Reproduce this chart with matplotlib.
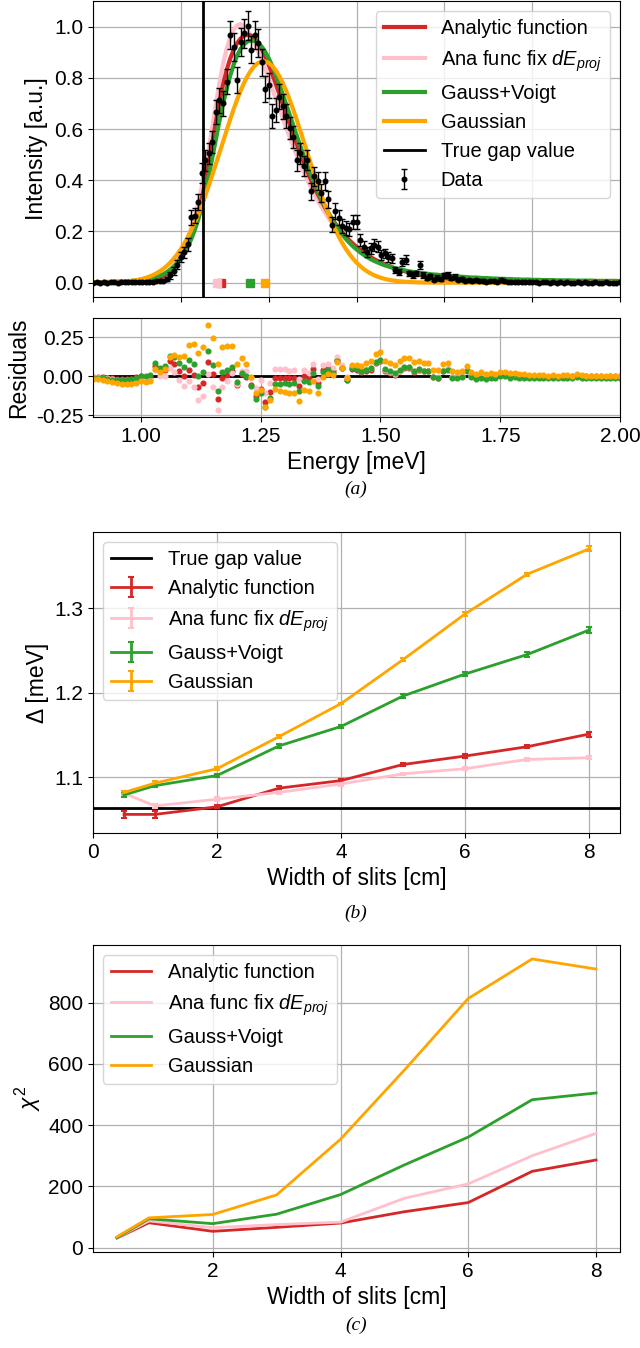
import numpy as np
import matplotlib
matplotlib.use('Agg')
import matplotlib.pyplot as plt
from matplotlib.ticker import FormatStrFormatter

plt.rcParams['font.family'] = ['Liberation Sans', 'DejaVu Sans']
plt.rcParams['mathtext.fontset'] = 'custom'
plt.rcParams['mathtext.rm'] = 'Liberation Sans'
plt.rcParams['mathtext.it'] = 'Liberation Sans:italic'
plt.rcParams['mathtext.bf'] = 'Liberation Sans:bold'

# ---------------- panel (a): measured spectrum at 5 cm slit width ----------------
energy_start, energy_step, n_energy = 0.75, 0.01, 151
energy = np.round(energy_start + energy_step * np.arange(n_energy), 2)

data = [
    0.000, 0.001, 0.000, 0.001, 0.000, 0.001, 0.001, 0.000, 0.001, 0.002,
    0.001, 0.002, 0.001, 0.002, 0.003, 0.002, 0.003, 0.004, 0.005, 0.006,
    0.008, 0.015, 0.028, 0.045, 0.070, 0.100, 0.118, 0.150, 0.255, 0.262,
    0.315, 0.428, 0.478, 0.505, 0.550, 0.668, 0.712, 0.700, 0.785, 0.967,
    0.920, 0.790, 0.940, 0.974, 1.003, 0.910, 0.967, 0.935, 0.860, 0.756,
    0.770, 0.650, 0.675, 0.727, 0.688, 0.650, 0.604, 0.570, 0.478, 0.506,
    0.455, 0.480, 0.357, 0.416, 0.396, 0.350, 0.396, 0.325, 0.227, 0.280,
    0.253, 0.220, 0.214, 0.208, 0.237, 0.237, 0.166, 0.140, 0.120, 0.134,
    0.147, 0.140, 0.108, 0.114, 0.100, 0.095, 0.050, 0.043, 0.082, 0.090,
    0.036, 0.030, 0.036, 0.069, 0.030, 0.018, 0.025, 0.012, 0.020, 0.015,
    0.028, 0.030, 0.018, 0.023, 0.012, 0.015, 0.008, 0.010, 0.006, 0.009,
    0.005, 0.008, 0.004, 0.006, 0.007, 0.004, 0.012, 0.006, 0.003, 0.004,
    0.002, 0.003, 0.001, 0.002, 0.001, 0.002, 0.001, 0.000, 0.001, 0.002,
    0.000, 0.001, 0.000, 0.001, 0.000, 0.001, 0.000, 0.000, 0.001, 0.000,
    0.001, 0.000, 0.000, 0.001, 0.000, 0.000, 0.001, 0.000, 0.000, 0.000,
    0.001,
]

data_err = [
    0.003, 0.003, 0.003, 0.003, 0.003, 0.003, 0.003, 0.003, 0.003, 0.003,
    0.003, 0.003, 0.003, 0.003, 0.003, 0.003, 0.003, 0.003, 0.003, 0.003,
    0.006, 0.009, 0.012, 0.015, 0.018, 0.020, 0.022, 0.025, 0.030, 0.030,
    0.033, 0.038, 0.040, 0.041, 0.043, 0.047, 0.048, 0.048, 0.050, 0.056,
    0.055, 0.051, 0.055, 0.056, 0.057, 0.054, 0.056, 0.055, 0.053, 0.050,
    0.050, 0.046, 0.047, 0.049, 0.047, 0.046, 0.044, 0.043, 0.040, 0.041,
    0.039, 0.040, 0.034, 0.037, 0.036, 0.034, 0.036, 0.033, 0.028, 0.030,
    0.029, 0.027, 0.027, 0.026, 0.028, 0.028, 0.023, 0.022, 0.020, 0.021,
    0.022, 0.022, 0.019, 0.019, 0.018, 0.018, 0.013, 0.012, 0.016, 0.017,
    0.011, 0.010, 0.011, 0.015, 0.010, 0.008, 0.009, 0.007, 0.008, 0.007,
    0.010, 0.010, 0.008, 0.009, 0.007, 0.007, 0.005, 0.006, 0.005, 0.005,
    0.004, 0.005, 0.004, 0.005, 0.005, 0.004, 0.008, 0.005, 0.003, 0.004,
    0.003, 0.003, 0.003, 0.003, 0.003, 0.003, 0.003, 0.003, 0.003, 0.003,
    0.003, 0.003, 0.003, 0.003, 0.003, 0.003, 0.003, 0.003, 0.003, 0.003,
    0.003, 0.003, 0.003, 0.003, 0.003, 0.003, 0.003, 0.003, 0.003, 0.003,
    0.003,
]

fit_analytic = [
    0.000, 0.000, 0.000, 0.000, 0.000, 0.000, 0.000, 0.001, 0.001, 0.001,
    0.001, 0.002, 0.002, 0.003, 0.004, 0.005, 0.007, 0.010, 0.014, 0.019,
    0.026, 0.035, 0.046, 0.060, 0.077, 0.098, 0.123, 0.153, 0.188, 0.228,
    0.275, 0.330, 0.397, 0.470, 0.550, 0.630, 0.705, 0.772, 0.828, 0.873,
    0.908, 0.935, 0.953, 0.964, 0.968, 0.965, 0.955, 0.937, 0.913, 0.884,
    0.851, 0.815, 0.777, 0.738, 0.698, 0.658, 0.618, 0.579, 0.541, 0.504,
    0.469, 0.435, 0.403, 0.373, 0.345, 0.319, 0.294, 0.271, 0.250, 0.230,
    0.212, 0.195, 0.179, 0.165, 0.152, 0.140, 0.129, 0.118, 0.109, 0.100,
    0.092, 0.085, 0.078, 0.072, 0.066, 0.061, 0.056, 0.052, 0.047, 0.044,
    0.040, 0.037, 0.034, 0.031, 0.028, 0.026, 0.024, 0.022, 0.020, 0.018,
    0.017, 0.015, 0.014, 0.013, 0.012, 0.011, 0.010, 0.009, 0.008, 0.008,
    0.007, 0.006, 0.006, 0.005, 0.005, 0.005, 0.004, 0.004, 0.004, 0.003,
    0.003, 0.003, 0.003, 0.002, 0.002, 0.002, 0.002, 0.002, 0.002, 0.002,
    0.002, 0.001, 0.001, 0.001, 0.001, 0.001, 0.001, 0.001, 0.001, 0.001,
    0.001, 0.001, 0.001, 0.001, 0.001, 0.001, 0.001, 0.001, 0.001, 0.001,
    0.001,
]

fit_analytic_fix = [
    0.000, 0.000, 0.000, 0.000, 0.000, 0.000, 0.001, 0.001, 0.001, 0.001,
    0.002, 0.002, 0.003, 0.004, 0.005, 0.007, 0.009, 0.012, 0.017, 0.023,
    0.031, 0.041, 0.054, 0.070, 0.090, 0.114, 0.142, 0.176, 0.216, 0.262,
    0.315, 0.377, 0.448, 0.527, 0.613, 0.700, 0.782, 0.853, 0.911, 0.955,
    0.987, 1.005, 1.010, 1.002, 0.985, 0.962, 0.935, 0.904, 0.870, 0.834,
    0.797, 0.759, 0.720, 0.681, 0.642, 0.604, 0.567, 0.531, 0.496, 0.463,
    0.431, 0.401, 0.372, 0.345, 0.320, 0.296, 0.274, 0.253, 0.234, 0.216,
    0.200, 0.184, 0.170, 0.157, 0.145, 0.134, 0.123, 0.114, 0.105, 0.097,
    0.089, 0.082, 0.076, 0.070, 0.064, 0.059, 0.055, 0.050, 0.046, 0.043,
    0.039, 0.036, 0.033, 0.031, 0.028, 0.026, 0.024, 0.022, 0.020, 0.018,
    0.017, 0.015, 0.014, 0.013, 0.012, 0.011, 0.010, 0.009, 0.008, 0.008,
    0.007, 0.006, 0.006, 0.005, 0.005, 0.005, 0.004, 0.004, 0.004, 0.003,
    0.003, 0.003, 0.003, 0.002, 0.002, 0.002, 0.002, 0.002, 0.002, 0.002,
    0.002, 0.001, 0.001, 0.001, 0.001, 0.001, 0.001, 0.001, 0.001, 0.001,
    0.001, 0.001, 0.001, 0.001, 0.001, 0.001, 0.001, 0.001, 0.001, 0.001,
    0.001,
]

fit_gauss_voigt = [
    0.002, 0.002, 0.002, 0.003, 0.003, 0.003, 0.004, 0.004, 0.005, 0.005,
    0.006, 0.007, 0.008, 0.009, 0.011, 0.013, 0.015, 0.018, 0.022, 0.027,
    0.033, 0.041, 0.051, 0.063, 0.078, 0.096, 0.117, 0.142, 0.171, 0.207,
    0.248, 0.298, 0.355, 0.420, 0.490, 0.562, 0.632, 0.697, 0.755, 0.806,
    0.850, 0.886, 0.913, 0.931, 0.942, 0.946, 0.944, 0.936, 0.922, 0.902,
    0.877, 0.847, 0.812, 0.775, 0.736, 0.696, 0.655, 0.614, 0.574, 0.534,
    0.495, 0.458, 0.422, 0.388, 0.356, 0.326, 0.298, 0.272, 0.248, 0.226,
    0.206, 0.188, 0.171, 0.156, 0.142, 0.130, 0.119, 0.109, 0.100, 0.092,
    0.085, 0.079, 0.073, 0.068, 0.064, 0.060, 0.056, 0.053, 0.050, 0.047,
    0.044, 0.042, 0.040, 0.038, 0.036, 0.035, 0.033, 0.032, 0.031, 0.029,
    0.028, 0.027, 0.026, 0.025, 0.024, 0.023, 0.022, 0.021, 0.020, 0.020,
    0.019, 0.018, 0.018, 0.017, 0.016, 0.016, 0.015, 0.015, 0.014, 0.014,
    0.013, 0.013, 0.012, 0.012, 0.012, 0.011, 0.011, 0.011, 0.010, 0.010,
    0.010, 0.010, 0.009, 0.009, 0.009, 0.009, 0.009, 0.008, 0.008, 0.008,
    0.008, 0.008, 0.008, 0.007, 0.007, 0.007, 0.007, 0.007, 0.007, 0.007,
    0.006,
]

fit_gaussian = [
    0.0003, 0.0004, 0.0005, 0.0007, 0.0010, 0.0013, 0.0018, 0.0024, 0.0032, 0.0042,
    0.0055, 0.0071, 0.0091, 0.0117, 0.0148, 0.0187, 0.0235, 0.0292, 0.0361, 0.0443,
    0.0540, 0.0654, 0.0786, 0.0939, 0.1113, 0.1312, 0.1535, 0.1784, 0.2060, 0.2361,
    0.2688, 0.3039, 0.3413, 0.3808, 0.4219, 0.4642, 0.5073, 0.5507, 0.5937, 0.6356,
    0.6758, 0.7138, 0.7488, 0.7801, 0.8072, 0.8295, 0.8467, 0.8583, 0.8643, 0.8643,
    0.8583, 0.8467, 0.8295, 0.8072, 0.7801, 0.7488, 0.7138, 0.6758, 0.6356, 0.5937,
    0.5507, 0.5073, 0.4642, 0.4219, 0.3808, 0.3413, 0.3039, 0.2688, 0.2361, 0.2060,
    0.1784, 0.1535, 0.1312, 0.1113, 0.0939, 0.0786, 0.0654, 0.0540, 0.0443, 0.0361,
    0.0292, 0.0235, 0.0187, 0.0148, 0.0117, 0.0091, 0.0071, 0.0055, 0.0042, 0.0032,
    0.0024, 0.0018, 0.0013, 0.0010, 0.0007, 0.0005, 0.0004, 0.0003, 0.0002, 0.0001,
    0.0, 0.0, 0.0, 0.0, 0.0, 0.0, 0.0, 0.0, 0.0, 0.0,
    0.0, 0.0, 0.0, 0.0, 0.0, 0.0, 0.0, 0.0, 0.0, 0.0,
    0.0, 0.0, 0.0, 0.0, 0.0, 0.0, 0.0, 0.0, 0.0, 0.0,
    0.0, 0.0, 0.0, 0.0, 0.0, 0.0, 0.0, 0.0, 0.0, 0.0,
    0.0, 0.0, 0.0, 0.0, 0.0, 0.0, 0.0, 0.0, 0.0, 0.0,
    0.0,
]

true_gap = 1.063

# ---------------- panels (b) and (c): vs slit width ----------------
slit_width = [0.5, 1, 2, 3, 4, 5, 6, 7, 8]
gap_analytic = [1.056, 1.056, 1.065, 1.087, 1.096, 1.115, 1.125, 1.136, 1.151]
gap_analytic_fix = [1.081, 1.066, 1.074, 1.082, 1.092, 1.104, 1.110, 1.121, 1.123]
gap_gauss_voigt = [1.079, 1.090, 1.102, 1.137, 1.160, 1.196, 1.222, 1.245, 1.274]
gap_gaussian = [1.082, 1.093, 1.110, 1.148, 1.187, 1.239, 1.293, 1.340, 1.370]
err_analytic = [0.004, 0.004, 0.002, 0.002, 0.002, 0.002, 0.002, 0.002, 0.003]
err_analytic_fix = [0.003, 0.002, 0.002, 0.002, 0.002, 0.001, 0.002, 0.002, 0.002]
err_gauss_voigt = [0.002, 0.002, 0.002, 0.002, 0.002, 0.002, 0.002, 0.003, 0.004]
err_gaussian = [0.002, 0.002, 0.002, 0.002, 0.001, 0.002, 0.002, 0.002, 0.003]

chi2_analytic = [31, 81, 53, 66, 80, 117, 147, 249, 286]
chi2_analytic_fix = [32, 87, 65, 75, 83, 161, 208, 300, 373]
chi2_gauss_voigt = [32, 94, 78, 109, 173, 270, 361, 483, 505]
chi2_gaussian = [35, 97, 108, 172, 354, 580, 814, 943, 910]

shown_width = 5  # slit width of the spectrum in panel (a)

labels = ['Analytic function', r'Ana func fix $dE_{proj}$', 'Gauss+Voigt', 'Gaussian']
C_RED, C_PINK, C_GREEN, C_ORANGE = '#d62728', 'pink', '#2ca02c', 'orange'

TICK_FS = 15
LABEL_FS = 16.5
LEG_FS = 14.5

W, H = 640, 1348
fig = plt.figure(figsize=(W / 100, H / 100), dpi=100)


def box(l, t, r, b):
    return [l / W, 1 - b / H, (r - l) / W, (b - t) / H]


ax1 = fig.add_axes(box(93, 1, 620, 297))
ax2 = fig.add_axes(box(93, 318, 620, 417))
ax3 = fig.add_axes(box(93, 532, 620, 833))
ax4 = fig.add_axes(box(93, 945, 620, 1252))

for ax in (ax1, ax2, ax3, ax4):
    ax.grid(True, color='#b0b0b0', lw=0.9)
    ax.set_axisbelow(True)
    ax.tick_params(labelsize=TICK_FS)

# ---- (a) top ----
data_a = np.array(data)
fits = [np.array(fit_analytic), np.array(fit_analytic_fix),
        np.array(fit_gauss_voigt), np.array(fit_gaussian)]
cols = [C_RED, C_PINK, C_GREEN, C_ORANGE]

l_pink, = ax1.plot(energy, fits[1], color=C_PINK, lw=3)
l_red, = ax1.plot(energy, fits[0], color=C_RED, lw=3)
l_green, = ax1.plot(energy, fits[2], color=C_GREEN, lw=3)
l_orange, = ax1.plot(energy, fits[3], color=C_ORANGE, lw=3)
l_gap = ax1.axvline(true_gap, color='k', lw=2)
eb = ax1.errorbar(energy, data_a, yerr=data_err, fmt='o', color='k', ms=3.3,
                  elinewidth=1, capsize=2.5, capthick=1)
iw = slit_width.index(shown_width)
for g, c in zip([gap_analytic, gap_analytic_fix, gap_gauss_voigt, gap_gaussian], cols):
    ax1.plot([g[iw]], [0], 's', color=c, ms=6, zorder=4)

ax1.set_xlim(0.75, 2.25)
ax1.set_ylim(-0.056, 1.10)
ax1.set_xticks([0.75, 1.0, 1.25, 1.5, 1.75, 2.0, 2.25])
ax1.tick_params(labelbottom=False)
ax1.set_yticks([0.0, 0.2, 0.4, 0.6, 0.8, 1.0])
ax1.yaxis.set_major_formatter(FormatStrFormatter('%.1f'))
ax1.set_ylabel('Intensity [a.u.]', fontsize=LABEL_FS)
ax1.legend([l_red, l_pink, l_green, l_orange, l_gap, eb],
           labels + ['True gap value', 'Data'], loc='upper right', fontsize=LEG_FS)

# ---- (a) residuals ----
ax2.axhline(0, color='k', lw=2, zorder=1)
for f, c in zip(fits, cols):
    ax2.plot(energy, data_a - f, 'o', ls='', color=c, ms=3.4, zorder=2)
ax2.set_xlim(0.9, 2.0)
ax2.set_ylim(-0.262, 0.375)
ax2.set_xticks([1.0, 1.25, 1.5, 1.75, 2.0])
ax2.set_yticks([-0.25, 0.0, 0.25])
ax2.xaxis.set_major_formatter(FormatStrFormatter('%.2f'))
ax2.yaxis.set_major_formatter(FormatStrFormatter('%.2f'))
ax2.set_xlabel('Energy [meV]', fontsize=LABEL_FS)
ax2.set_ylabel('Residuals', fontsize=LABEL_FS)

# ---- (b) ----
ax3.axhline(true_gap, color='k', lw=2, label='True gap value')
for g, e, c, lab in zip([gap_analytic, gap_analytic_fix, gap_gauss_voigt, gap_gaussian],
                        [err_analytic, err_analytic_fix, err_gauss_voigt, err_gaussian],
                        cols, labels):
    ax3.errorbar(slit_width, g, yerr=e, color=c, lw=2, capsize=2.5, capthick=1.5, label=lab)
ax3.set_xlim(0, 8.5)
ax3.set_ylim(1.034, 1.39)
ax3.set_xticks([0, 2, 4, 6, 8])
ax3.set_yticks([1.1, 1.2, 1.3])
ax3.set_xlabel('Width of slits [cm]', fontsize=LABEL_FS)
ax3.set_ylabel('Δ [meV]', fontsize=LABEL_FS)
ax3.legend(loc='upper left', fontsize=LEG_FS)

# ---- (c) ----
for ch, c, lab in zip([chi2_analytic, chi2_analytic_fix, chi2_gauss_voigt, chi2_gaussian],
                      cols, labels):
    ax4.plot(slit_width, ch, color=c, lw=2, label=lab)
ax4.set_xticks([2, 4, 6, 8])
ax4.set_yticks([0, 200, 400, 600, 800])
ax4.set_xlabel('Width of slits [cm]', fontsize=LABEL_FS)
ax4.set_ylabel(r'$\chi^2$', fontsize=LABEL_FS)
ax4.legend(loc='upper left', fontsize=LEG_FS)

# captions
for lab, y in [('(a)', 489), ('(b)', 913), ('(c)', 1325)]:
    fig.text(356 / W, 1 - y / H, lab, ha='center', va='center',
             family='Liberation Serif', style='italic', fontsize=14)

fig.savefig('out.png', dpi=100, facecolor='white')
